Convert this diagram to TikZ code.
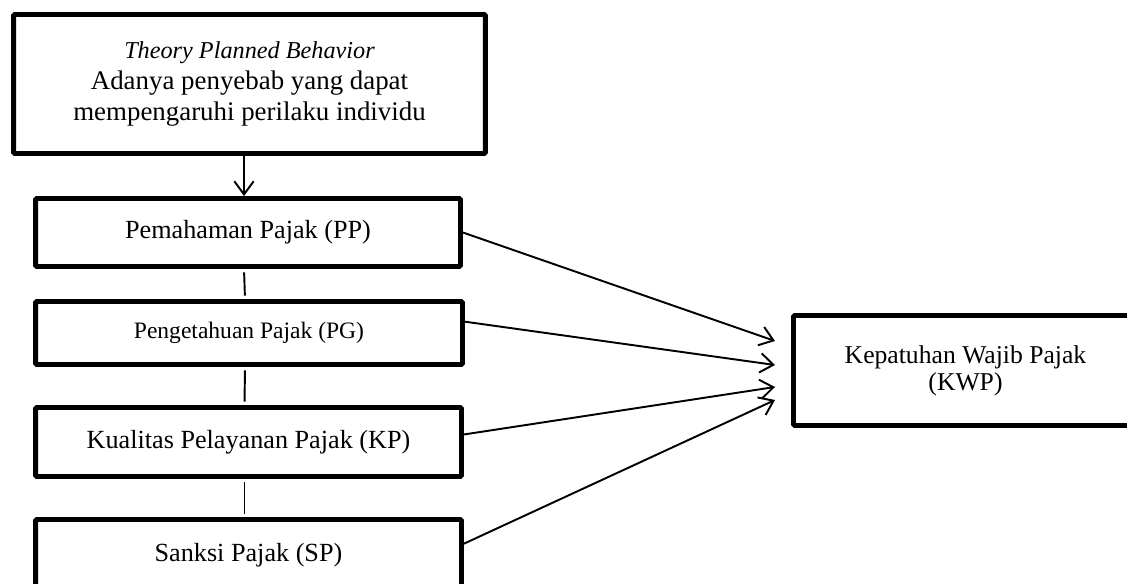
\documentclass[tikz,border=0pt]{standalone}
\usepackage{fontspec}
\setmainfont{Liberation Serif}
\usetikzlibrary{arrows.meta,positioning}

\tikzset{
  varbox/.style={draw,line width=2.8pt,rounded corners=0.8pt,align=center,
                 inner sep=0pt,font=\fontsize{14.9}{17}\selectfont},
  link/.style={line width=1.1pt,shorten <=2pt,shorten >=2pt},
  flow/.style={line width=1.1pt,-{Straight Barb[length=7.5pt,width=11pt,line width=1.1pt]}}
}

\begin{document}
\begin{tikzpicture}[x=0.02cm,y=-0.02cm]
  \useasboundingbox (0,0) rectangle (1127,584);
  \clip (0,0) rectangle (1127,584);
  % Theory box
  \node[varbox,minimum width=9.44cm,minimum height=2.78cm,
        font=\fontsize{15.3}{17.5}\selectfont] (tpb) at (249.5,84)
    {{\fontsize{13.8}{17.5}\selectfont\itshape Theory Planned Behavior}\\
     Adanya penyebab yang dapat\\ mempengaruhi perilaku individu};
  % Independent variables
  \node[varbox,minimum width=8.5cm,minimum height=1.36cm] (pp) at (248,232.5)
    {Pemahaman Pajak (PP)};
  \node[varbox,minimum width=8.54cm,minimum height=1.26cm,
        font=\fontsize{13.4}{15}\selectfont] (pg) at (249,333)
    {Pengetahuan Pajak (PG)};
  \node[varbox,minimum width=8.52cm,minimum height=1.38cm] (kp) at (248.5,442)
    {Kualitas Pelayanan Pajak (KP)};
  \node[varbox,minimum width=8.52cm,minimum height=1.42cm] (sp) at (248.5,555)
    {Sanksi Pajak (SP)};
  % Dependent variable
  \node[varbox,minimum width=6.88cm,minimum height=2.2cm,
        font=\fontsize{14.6}{15.4}\selectfont] (kwp) at (965.5,370.5)
    {Kepatuhan Wajib Pajak\\(KWP)};
  % Arrow ends
  \coordinate (e1) at (775,341);
  \coordinate (e2) at (775,365);
  \coordinate (e3) at (775,387);
  \coordinate (e4) at (775,400);
  % Connectors
  \draw[flow] ([xshift=-0.08cm]tpb.south -| pp.north) -- ([xshift=-0.08cm]pp.north);
  \draw[link] ([xshift=-0.08cm]pp.south) -- ([xshift=-0.08cm]pg.north);
  \draw[link] ([xshift=-0.08cm]pg.south) -- ([xshift=-0.08cm]kp.north);
  \draw[link] ([xshift=-0.08cm]kp.south) -- ([xshift=-0.08cm]sp.north);
  \draw[flow] (pp.east) -- (e1);
  \draw[flow] (pg.3) -- (e2);
  \draw[flow] (kp.2) -- (e3);
  \draw[flow] (sp.3) -- (e4);
\end{tikzpicture}
\end{document}
